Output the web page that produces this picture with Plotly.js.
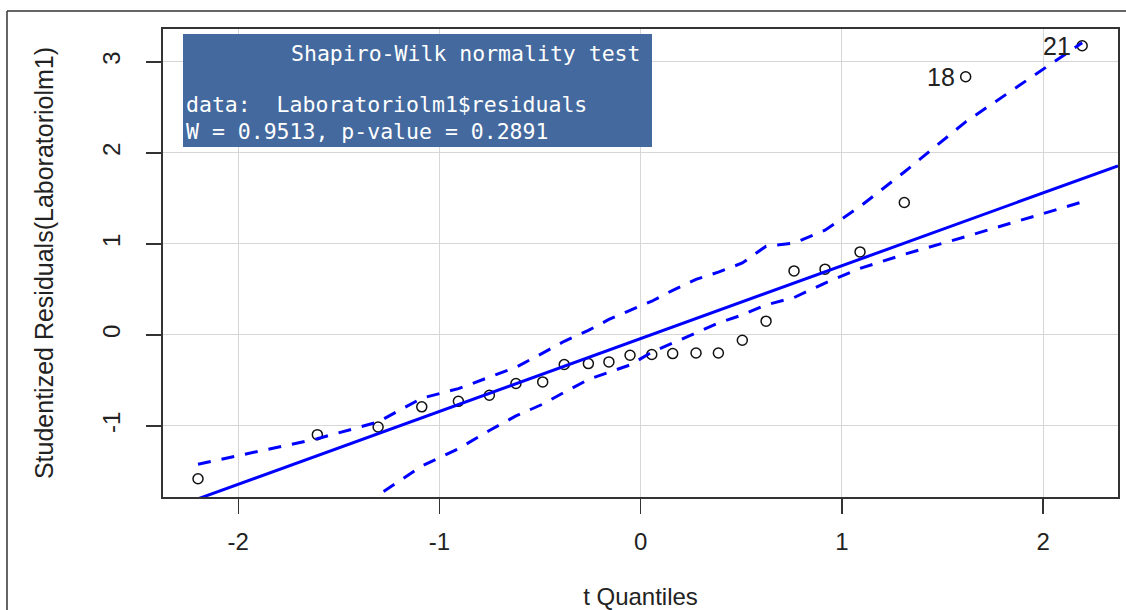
<!DOCTYPE html>
<html>
<head>
<meta charset="utf-8">
<script src="https://cdn.plot.ly/plotly-3.0.1.min.js"></script>
<style>
  html, body { margin: 0; padding: 0; background: #ffffff; }
  #chart { width: 1126px; height: 610px; }
</style>
</head>
<body>
<div id="chart"></div>
<script>
// ---- data ----
const tQuantiles = [-2.200, -1.607, -1.305, -1.088, -0.906, -0.752, -0.620, -0.487, -0.380, -0.260, -0.158, -0.053,
                     0.055,  0.159,  0.275,  0.386,  0.505,  0.623,  0.762,  0.916,  1.090,  1.310,  1.615,  2.194];
const studResiduals = [-1.580, -1.095, -1.011, -0.790, -0.729, -0.663, -0.534, -0.516, -0.325, -0.315, -0.296, -0.223,
                       -0.215, -0.205, -0.198, -0.198, -0.058,  0.151,  0.703,  0.722,  0.912,  1.455,  2.835,  3.176];
const upperEnvelope = [-1.42, -1.14, -0.956, -0.695, -0.59, -0.465, -0.355, -0.20, -0.07, 0.05, 0.17, 0.27,
                        0.37,  0.49,  0.61,   0.69,   0.79,  0.975,  1.01,   1.15,  1.41, 1.79, 2.34, 3.21];
const lowerEnvelope = [-2.90, -2.30, -1.76, -1.44, -1.25, -1.05, -0.89, -0.76, -0.63, -0.49, -0.41, -0.33,
                       -0.19, -0.09,  0.02,  0.13,  0.22,  0.33,  0.41,  0.57,  0.73,  0.885, 1.08, 1.46];
const refIntercept = -0.04;
const refSlope = 0.80;
const labelledIdx = [22, 23];
const labelledNames = ["18", "21"];
const xTickVals = [-2, -1, 0, 1, 2];
const xTickText = ["-2", "-1", "0", "1", "2"];
const yTickVals = [-1, 0, 1, 2, 3];
const yTickText = ["-1", "0", "1", "2", "3"];
const testLines = ["Shapiro-Wilk normality test",
                   "data:\u00A0\u00A0Laboratoriolm1$residuals",
                   "W = 0.9513, p-value = 0.2891"];

// ---- layout geometry ----
const W = 1126, H = 610;
const margin = {l: 163, r: 8, t: 29, b: 113};
const xRange = [-2.374, 2.372];
const yRange = [-1.78, 3.36];
const plotW = W - margin.l - margin.r, plotH = H - margin.t - margin.b;
const px2paperX = px => (px - margin.l) / plotW;
const px2paperY = py => (H - margin.b - py) / plotH;

const refX = xRange.slice();
const refY = refX.map(x => refIntercept + refSlope * x);

const blue = '#0000ff';
const traces = [
  {x: tQuantiles, y: studResiduals, mode: 'markers', type: 'scatter',
   marker: {symbol: 'circle-open', size: 10, color: '#111', line: {width: 1.5, color: '#111'}},
   hoverinfo: 'x+y', showlegend: false},
  {x: refX, y: refY, mode: 'lines', type: 'scatter',
   line: {color: blue, width: 3}, showlegend: false},
  {x: tQuantiles, y: upperEnvelope, mode: 'lines', type: 'scatter',
   line: {color: blue, width: 3, dash: '13px,11px'}, showlegend: false},
  {x: tQuantiles, y: lowerEnvelope, mode: 'lines', type: 'scatter',
   line: {color: blue, width: 3, dash: '13px,11px'}, showlegend: false}
];

const font = 'Liberation Sans, Arial, sans-serif';
const mono = 'DejaVu Sans Mono, Liberation Mono, monospace';

const annotations = labelledIdx.map((i, k) => ({
  x: tQuantiles[i], y: studResiduals[i], xref: 'x', yref: 'y',
  text: labelledNames[k], showarrow: false, xanchor: 'right', yanchor: 'middle',
  xshift: -9, font: {family: font, size: 25, color: '#222'}
}));
annotations.push(
  {xref: 'paper', yref: 'paper', x: px2paperX(289), y: px2paperY(53), text: testLines[0],
   showarrow: false, xanchor: 'left', yanchor: 'middle', font: {family: mono, size: 21.5, color: '#ffffff'}},
  {xref: 'paper', yref: 'paper', x: px2paperX(184), y: px2paperY(105), text: testLines[1],
   showarrow: false, xanchor: 'left', yanchor: 'middle', font: {family: mono, size: 21.5, color: '#ffffff'}},
  {xref: 'paper', yref: 'paper', x: px2paperX(184), y: px2paperY(131), text: testLines[2],
   showarrow: false, xanchor: 'left', yanchor: 'middle', font: {family: mono, size: 21.5, color: '#ffffff'}}
);

const shapes = [
  // blue text box
  {type: 'rect', xref: 'paper', yref: 'paper', layer: 'above',
   x0: px2paperX(183), x1: px2paperX(652), y0: px2paperY(147), y1: px2paperY(34),
   fillcolor: '#43699e', line: {width: 0}},
  // outer frame (left and top)
  {type: 'line', xref: 'paper', yref: 'paper', layer: 'above',
   x0: px2paperX(7), x1: px2paperX(7), y0: px2paperY(612), y1: px2paperY(11),
   line: {color: '#333', width: 1.5}},
  {type: 'line', xref: 'paper', yref: 'paper', layer: 'above',
   x0: px2paperX(7), x1: px2paperX(1128), y0: px2paperY(11), y1: px2paperY(11),
   line: {color: '#333', width: 1.5}}
];

const layout = {
  width: W, height: H, margin: margin,
  paper_bgcolor: '#ffffff', plot_bgcolor: '#ffffff',
  showlegend: false,
  font: {family: font, size: 24, color: '#222'},
  xaxis: {
    range: xRange, tickvals: xTickVals, ticktext: xTickText,
    showgrid: true, gridcolor: '#d6d6d6', gridwidth: 1, zeroline: false,
    showline: true, linecolor: '#333', linewidth: 2, mirror: true,
    ticks: 'outside', ticklen: 15, tickwidth: 1.5, tickcolor: '#333',
    ticklabelstandoff: 7,
    tickfont: {family: font, size: 24, color: '#222'},
    title: {text: 't Quantiles', font: {family: font, size: 24, color: '#222'}, standoff: 36}
  },
  yaxis: {
    range: yRange, tickvals: yTickVals, ticktext: yTickText, tickangle: -90,
    showgrid: true, gridcolor: '#d6d6d6', gridwidth: 1, zeroline: false,
    showline: true, linecolor: '#333', linewidth: 2, mirror: true,
    ticks: 'outside', ticklen: 15, tickwidth: 1.5, tickcolor: '#333',
    ticklabelstandoff: 16,
    tickfont: {family: font, size: 24, color: '#222'},
    title: {text: 'Studentized Residuals(Laboratoriolm1)', font: {family: font, size: 25, color: '#222'}, standoff: 38}
  },
  annotations: annotations,
  shapes: shapes
};

Plotly.newPlot('chart', traces, layout, {displayModeBar: false, staticPlot: true});
</script>
</body>
</html>
